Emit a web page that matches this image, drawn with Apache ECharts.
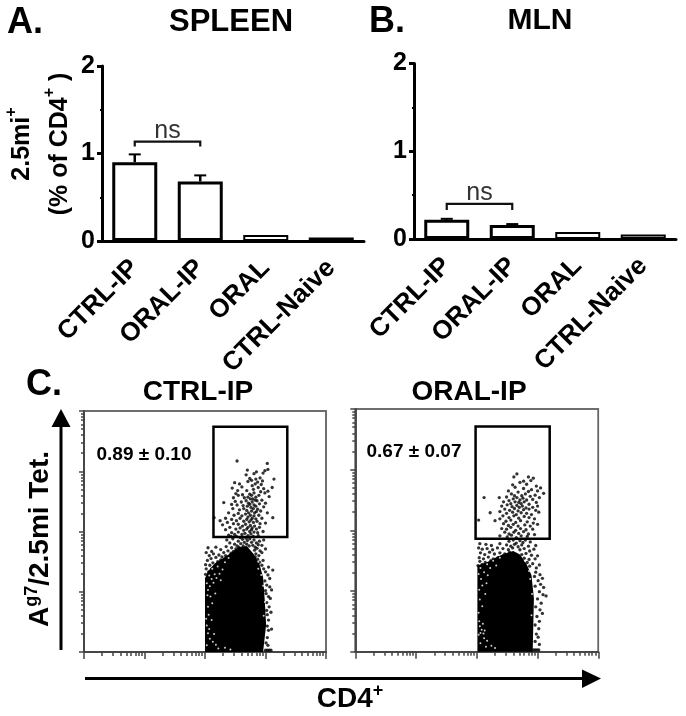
<!DOCTYPE html>
<html>
<head>
<meta charset="utf-8">
<style>html,body{margin:0;padding:0;background:#fff}#chart{width:686px;height:716px}</style>
<script src="https://cdn.jsdelivr.net/npm/echarts@6/dist/echarts.min.js"></script>
</head>
<body>
<div id="chart"></div>
<script>
var categories = ['CTRL-IP', 'ORAL-IP', 'ORAL', 'CTRL-Naive'];
var spleenMean = [0.90, 0.68, 0.07, 0.04];
var spleenUpper = [0.99, 0.75, 0.07, 0.04];
var mlnMean = [0.22, 0.16, 0.08, 0.05];
var mlnUpper = [0.23, 0.17, 0.08, 0.05];
// bracket: from category, to category, top value, leg end value
var spleenBracket = [0, 1, 1.135, 1.08];
var mlnBracket = [0, 1, 0.40, 0.33];

// flow plots, values in decades on the log scale
var decades = [0, 1, 2, 3, 4];
var logMinor = [0.30, 0.48, 0.60, 0.70, 0.78, 0.85, 0.90, 0.95];
var ctrlGate = [[2.14, 1.91], [3.36, 3.74]];
var oralGate = [[1.98, 1.86], [3.20, 3.71]];
var ctrlCore = [[2.00, 0], [2.00, 1.22], [2.05, 1.34], [2.16, 1.47], [2.30, 1.56], [2.44, 1.65], [2.55, 1.74], [2.69, 1.76], [2.80, 1.63], [2.90, 1.46], [2.96, 1.24], [2.99, 0.83], [3.01, 0.45], [2.96, 0]];
var oralCore = [[2.01, 0], [2.01, 1.42], [2.16, 1.47], [2.33, 1.56], [2.465, 1.62], [2.60, 1.66], [2.71, 1.60], [2.82, 1.44], [2.90, 1.26], [2.94, 0.88], [2.93, 0.44], [2.92, 0]];
var ctrlSpeck = [[2.05, 0.31], [2.08, 0.22], [2.03, 0.11], [2.13, 0.17], [2.17, 0.97], [2.05, 0.75], [2.11, 0.53], [2.22, 0.06], [2.33, 0.07], [2.11, 1.21], [2.19, 1.23], [2.05, 1.03], [2.99, 0.83], [2.09, 0.92], [2.03, 0.44], [2.07, 0.38], [2.03, 1.14], [2.08, 1.09], [2.14, 1.15], [2.24, 1.30], [2.29, 1.37], [2.16, 1.29], [2.04, 0.94], [2.12, 0.81], [2.06, 0.62], [2.15, 0.30], [2.02, 0.55], [2.18, 0.12], [2.96, 1.10], [2.93, 1.28], [2.97, 0.60], [2.88, 1.38], [2.42, 0.04], [2.07, 1.27], [2.12, 1.38], [2.21, 1.42], [2.33, 1.49], [2.39, 1.56], [2.26, 1.19], [2.88, 1.50]];
var oralSpeck = [[2.05, 0.42], [2.08, 0.36], [2.03, 0.28], [2.12, 0.22], [2.06, 0.14], [2.15, 0.08], [2.09, 0.75], [2.04, 1.02], [2.14, 0.95], [2.07, 1.20], [2.18, 1.26], [2.24, 0.10], [2.90, 0.60], [2.11, 0.30], [2.04, 0.50], [2.10, 0.46], [2.06, 0.31], [2.13, 0.35], [2.03, 1.28], [2.12, 1.31], [2.22, 1.38], [2.32, 1.42], [2.09, 1.09], [2.16, 1.13], [2.05, 0.86], [2.03, 0.64], [2.17, 0.18], [2.30, 0.06], [2.88, 1.20], [2.91, 0.95], [2.86, 1.33], [2.06, 1.38], [2.17, 1.44], [2.27, 1.50], [2.38, 1.55], [2.79, 1.50]];
var ctrlDots = [
  [2.53, 3.17], [3.03, 3.13], [3.04, 3.03], [2.99, 3.01], [2.70, 3.02], [2.68, 2.94], [2.96, 2.97], [2.85, 2.99], [2.81, 2.96], [3.14, 2.87], [2.77, 2.85], [2.91, 2.89], [2.84, 2.87], [2.74, 2.88], [2.71, 2.83], [2.87, 2.82], [2.95, 2.84],
  [2.49, 2.81], [2.61, 2.74], [2.57, 2.79], [2.78, 2.76], [2.83, 2.79], [2.93, 2.78], [2.97, 2.71], [3.11, 2.73], [2.54, 2.68], [2.45, 2.72], [2.80, 2.70], [2.88, 2.73], [2.92, 2.66], [3.04, 2.67], [2.51, 2.63], [2.62, 2.61], [2.69, 2.68], [2.74, 2.62], [2.81, 2.64], [2.89, 2.60], [2.99, 2.64], [3.06, 2.58],
  [2.47, 2.56], [2.55, 2.60], [2.65, 2.56], [2.71, 2.57], [2.77, 2.60], [2.79, 2.54], [2.84, 2.57], [2.86, 2.51], [2.94, 2.52], [2.50, 2.50], [2.60, 2.49], [2.68, 2.51], [2.72, 2.47], [2.75, 2.54], [2.78, 2.49], [2.81, 2.44], [2.83, 2.52], [2.90, 2.46], [3.00, 2.47],
  [2.31, 2.48], [2.44, 2.45], [2.53, 2.44], [2.63, 2.43], [2.70, 2.42], [2.74, 2.45], [2.76, 2.40], [2.80, 2.38], [2.84, 2.42], [2.87, 2.37], [2.97, 2.41], [2.46, 2.38], [2.57, 2.36], [2.64, 2.38], [2.69, 2.35], [2.72, 2.31], [2.77, 2.34], [2.82, 2.31], [2.85, 2.33], [2.92, 2.34], [3.03, 2.31],
  [2.39, 2.31], [2.48, 2.27], [2.55, 2.30], [2.61, 2.26], [2.67, 2.29], [2.71, 2.24], [2.75, 2.27], [2.78, 2.22], [2.81, 2.26], [2.84, 2.21], [2.89, 2.27], [2.94, 2.22], [3.12, 2.23], [2.34, 2.22], [2.44, 2.20], [2.52, 2.18], [2.58, 2.22], [2.64, 2.17], [2.69, 2.20], [2.73, 2.16], [2.76, 2.19], [2.80, 2.15], [2.86, 2.17], [2.91, 2.13], [3.00, 2.14],
  [2.15, 2.23], [2.25, 2.18], [2.37, 2.15], [2.47, 2.13], [2.55, 2.12], [2.62, 2.09], [2.67, 2.12], [2.71, 2.07], [2.75, 2.10], [2.78, 2.06], [2.82, 2.09], [2.85, 2.04], [2.90, 2.07], [2.29, 2.11], [2.41, 2.07], [2.51, 2.04], [2.58, 2.06], [2.64, 2.02], [2.69, 2.04], [2.74, 2.00], [2.77, 2.03], [2.81, 1.99], [2.87, 1.98], [2.96, 2.00], [2.34, 2.03], [2.44, 1.98], [2.49, 1.95], [2.55, 1.99], [2.61, 1.95], [2.66, 1.97], [2.71, 1.93], [2.76, 1.96], [2.80, 1.92], [2.88, 1.93], [2.39, 1.94], [2.43, 1.92], [2.52, 1.92], [2.58, 1.90], [2.68, 1.89],
  [2.36, 1.86], [2.46, 1.88], [2.55, 1.84], [2.62, 1.87], [2.65, 1.82], [2.70, 1.85], [2.74, 1.88], [2.77, 1.82], [2.81, 1.86], [2.85, 1.81], [2.90, 1.84], [2.97, 1.86], [2.41, 1.81], [2.49, 1.79], [2.53, 1.76], [2.59, 1.80], [2.63, 1.76], [2.69, 1.79], [2.73, 1.76], [2.79, 1.77], [2.83, 1.74], [2.88, 1.78], [2.94, 1.77], [2.18, 1.74], [2.35, 1.75], [2.44, 1.73], [2.51, 1.71], [2.56, 1.74], [2.82, 1.69], [2.86, 1.72], [2.91, 1.68], [3.00, 1.71],
  [2.05, 1.73], [2.11, 1.67], [2.26, 1.70], [2.31, 1.65], [2.38, 1.68], [2.43, 1.64], [2.47, 1.67], [2.50, 1.62], [2.84, 1.63], [2.89, 1.60], [2.94, 1.65], [2.02, 1.65], [2.07, 1.60], [2.14, 1.63], [2.18, 1.57], [2.23, 1.61], [2.28, 1.58], [2.34, 1.60], [2.39, 1.56], [2.43, 1.61], [2.83, 1.58], [2.87, 1.54], [2.96, 1.52], [2.04, 1.52], [2.10, 1.55], [2.13, 1.48], [2.21, 1.50], [2.26, 1.53], [2.31, 1.48], [2.37, 1.51], [2.90, 1.49], [2.94, 1.44], [2.01, 1.45], [2.08, 1.44], [2.16, 1.42], [2.20, 1.45], [2.25, 1.47], [2.02, 1.38], [2.06, 1.33], [2.11, 1.38], [2.01, 1.29], [2.04, 1.24], [2.09, 1.30],
  [3.12, 1.36], [3.05, 1.41], [3.00, 1.33], [2.97, 1.38], [3.07, 1.22], [3.02, 1.11], [3.04, 1.28], [3.10, 1.03], [3.05, 0.92], [3.08, 0.89], [3.01, 0.97], [3.06, 0.75], [3.02, 0.69], [3.05, 0.53], [3.03, 0.62], [3.09, 0.66], [3.10, 0.38], [3.05, 0.36], [3.03, 0.24], [3.04, 0.11], [3.00, 0.03], [3.03, 0.03], [3.06, 0.03], [3.09, 0.03], [2.99, 1.18], [3.00, 1.02], [3.07, 1.08], [3.02, 0.82], [3.03, 0.43], [3.01, 0.15]
];
var oralDots = [
  [2.66, 2.93], [2.61, 2.88], [2.85, 2.88], [2.93, 2.86], [2.77, 2.81], [2.71, 2.79], [2.89, 2.82], [2.59, 2.75], [2.82, 2.76], [2.98, 2.73], [3.05, 2.70], [2.63, 2.71], [2.77, 2.69], [2.90, 2.67], [3.00, 2.65], [3.10, 2.61], [2.52, 2.65], [2.68, 2.63], [2.85, 2.64], [2.96, 2.58], [2.57, 2.60], [2.74, 2.57], [2.12, 2.54], [2.37, 2.54], [2.49, 2.55], [2.62, 2.57], [2.80, 2.60], [2.88, 2.56], [3.03, 2.54],
  [2.53, 2.49], [2.60, 2.52], [2.66, 2.54], [2.71, 2.50], [2.76, 2.53], [2.69, 2.46], [2.82, 2.50], [2.92, 2.51], [2.98, 2.46], [2.44, 2.47], [2.56, 2.44], [2.63, 2.47], [2.73, 2.44], [2.78, 2.47], [2.66, 2.41], [2.86, 2.43], [3.00, 2.40], [2.41, 2.40], [2.50, 2.42], [2.58, 2.39], [2.70, 2.38], [2.75, 2.40], [2.81, 2.37], [2.92, 2.38], [2.46, 2.35], [2.54, 2.33], [2.62, 2.36], [2.68, 2.32], [2.77, 2.34], [2.86, 2.35], [2.97, 2.33], [2.22, 2.29], [2.38, 2.31], [2.49, 2.28], [2.59, 2.30], [2.65, 2.26], [2.73, 2.29], [2.82, 2.28], [2.90, 2.26], [3.02, 2.30],
  [2.43, 2.24], [2.53, 2.21], [2.61, 2.24], [2.69, 2.20], [2.78, 2.23], [2.86, 2.21], [2.95, 2.19], [2.03, 2.17], [2.30, 2.16], [2.38, 2.19], [2.48, 2.15], [2.56, 2.17], [2.64, 2.13], [2.72, 2.16], [2.83, 2.14], [2.93, 2.12], [2.44, 2.11], [2.52, 2.08], [2.60, 2.10], [2.68, 2.07], [2.79, 2.09], [2.88, 2.07], [3.00, 2.10], [2.41, 2.03], [2.49, 2.02], [2.56, 2.05], [2.64, 2.00], [2.72, 2.03], [2.81, 2.01], [2.92, 2.02], [2.46, 1.97], [2.53, 1.94], [2.61, 1.97], [2.69, 1.95], [2.77, 1.98], [2.85, 1.94], [2.95, 1.93], [2.38, 1.91], [2.50, 1.89], [2.57, 1.92], [2.65, 1.88], [2.73, 1.91], [2.83, 1.90],
  [2.53, 1.82], [2.60, 1.84], [2.65, 1.79], [2.71, 1.83], [2.76, 1.80], [2.80, 1.84], [2.88, 1.81], [2.05, 1.78], [2.15, 1.77], [2.24, 1.75], [2.38, 1.78], [2.49, 1.76], [2.56, 1.74], [2.62, 1.77], [2.68, 1.73], [2.74, 1.76], [2.85, 1.74], [2.97, 1.75], [2.03, 1.71], [2.09, 1.69], [2.17, 1.70], [2.26, 1.68], [2.34, 1.71], [2.43, 1.70], [2.52, 1.68], [2.59, 1.71], [2.71, 1.68], [2.78, 1.70], [2.87, 1.66], [2.94, 1.69], [2.06, 1.63], [2.13, 1.60], [2.21, 1.64], [2.29, 1.61], [2.38, 1.63], [2.46, 1.61], [2.54, 1.64], [2.74, 1.60], [2.81, 1.62], [2.90, 1.59], [3.00, 1.58], [2.04, 1.55], [2.11, 1.53], [2.19, 1.56], [2.27, 1.53], [2.35, 1.55], [2.43, 1.58], [2.78, 1.54], [2.86, 1.52], [2.96, 1.53], [2.05, 1.49], [2.14, 1.47], [2.23, 1.50], [2.31, 1.49], [2.83, 1.47], [2.92, 1.45], [3.03, 1.43], [2.02, 1.42], [2.09, 1.44], [2.18, 1.42], [2.87, 1.41], [2.98, 1.38],
  [2.97, 1.31], [3.04, 1.27], [3.08, 1.21], [2.95, 1.24], [3.01, 1.17], [3.05, 1.11], [3.10, 1.06], [2.96, 1.08], [3.03, 0.99], [3.09, 0.94], [3.14, 0.92], [3.00, 0.87], [3.06, 0.80], [2.97, 0.74], [3.04, 0.69], [3.08, 0.63], [2.99, 0.58], [3.03, 0.50], [2.96, 0.44], [3.02, 0.38], [2.98, 0.29], [3.01, 0.24], [2.96, 0.17], [3.03, 0.12], [2.93, 0.03], [2.96, 0.03], [2.99, 0.03], [3.02, 0.03]
];

var FONT = '"Liberation Sans", Arial, sans-serif';

function barGrid(left, top, height) {
	return {left: left, top: top, width: 262, height: height};
}
function flowGrid(left, top, width, height) {
	return {show: true, left: left, top: top, width: width, height: height, borderColor: '#666', borderWidth: 1.5, backgroundColor: 'transparent'};
}

function catAxis(gridIndex) {
	return {
		type: 'category', gridIndex: gridIndex, data: categories,
		axisLine: {lineStyle: {color: '#000', width: 3}},
		axisTick: {alignWithLabel: true, length: 5, lineStyle: {color: '#000', width: 3}},
		axisLabel: {interval: 0, rotate: 45, margin: 23, color: '#000', fontFamily: FONT, fontWeight: 'bold', fontSize: 26}
	};
}
function valAxis(gridIndex) {
	return {
		type: 'value', gridIndex: gridIndex, min: 0, max: 2, interval: 1,
		axisLine: {show: true, lineStyle: {color: '#000', width: 3}},
		axisTick: {show: true, length: 5, lineStyle: {color: '#000', width: 3}},
		minorTick: {show: true, splitNumber: 2, length: 2, lineStyle: {color: '#000', width: 2}},
		splitLine: {show: false},
		axisLabel: {margin: 7, color: '#000', fontFamily: FONT, fontWeight: 'bold', fontSize: 25}
	};
}
var minorValues = [];
decades.slice(0, 4).forEach(function(d) {
	logMinor.forEach(function(m) {
		minorValues.push(d + m);
	});
});
function flowAxis(gridIndex, values, len) {
	return {
		type: 'value', gridIndex: gridIndex, min: 0, max: 4, interval: 1,
		axisLine: {show: true, lineStyle: {color: '#444', width: 1.5}},
		axisTick: {show: true, customValues: values, length: len, lineStyle: {color: '#444', width: 1.5}},
		axisLabel: {show: false},
		splitLine: {show: false}
	};
}

// small bars need a thinner outline or they fill in solid
function barData(values) {
	return values.map(function(v) {
		return {value: v, itemStyle: {borderWidth: v < 0.1 ? 2 : 3}};
	});
}
function barSeries(idx, values) {
	return {type: 'bar', xAxisIndex: idx, yAxisIndex: idx, data: barData(values), barWidth: 45, z: 2, itemStyle: {color: '#fff', borderColor: '#000'}};
}
function errorSeries(idx, mean, upper) {
	return {
		type: 'custom', xAxisIndex: idx, yAxisIndex: idx, silent: true, z: 1,
		data: mean.map(function(m, i) { return [i, m, upper[i]]; }),
		renderItem: function(params, api) {
			var base = api.coord([api.value(0), api.value(1)]);
			var top = api.coord([api.value(0), api.value(2)]);
			if (api.value(2) <= api.value(1)) return;
			return {type: 'group', children: [
				{type: 'line', shape: {x1: base[0], y1: base[1], x2: top[0], y2: top[1]}, style: {stroke: '#000', lineWidth: 2.5}},
				{type: 'line', shape: {x1: top[0] - 6, y1: top[1], x2: top[0] + 6, y2: top[1]}, style: {stroke: '#000', lineWidth: 2}}
			]};
		}
	};
}
function bracketSeries(idx, b) {
	return {
		type: 'custom', xAxisIndex: idx, yAxisIndex: idx, silent: true, z: 3,
		data: [b],
		renderItem: function(params, api) {
			var a = api.coord([api.value(0), api.value(2)]);
			var c = api.coord([api.value(1), api.value(2)]);
			var a2 = api.coord([api.value(0), api.value(3)]);
			return {type: 'group', children: [
				{type: 'polyline', shape: {points: [[a[0], a2[1]], a, c, [c[0], a2[1]]]}, style: {fill: 'none', stroke: '#111', lineWidth: 2.2}},
				{type: 'text', style: {x: (a[0] + c[0]) / 2, y: a[1] + 2, text: 'ns', textAlign: 'center', textVerticalAlign: 'bottom', fill: '#333', font: '25px ' + FONT}}
			]};
		}
	};
}
function coreSeries(idx, core) {
	return {
		type: 'custom', xAxisIndex: idx, yAxisIndex: idx, silent: true, z: 2,
		data: [core[0]],
		renderItem: function(params, api) {
			return {type: 'polygon', shape: {points: core.map(function(p) { return api.coord(p); })}, style: {fill: '#000'}};
		}
	};
}
function gateSeries(idx, gate) {
	return {
		type: 'custom', xAxisIndex: idx, yAxisIndex: idx, silent: true, z: 5,
		data: [gate[0]],
		renderItem: function(params, api) {
			var a = api.coord(gate[0]), b = api.coord(gate[1]);
			return {type: 'rect', shape: {x: a[0], y: b[1], width: b[0] - a[0], height: a[1] - b[1]}, style: {fill: 'none', stroke: '#000', lineWidth: 2.5}};
		}
	};
}
function dotSeries(idx, dots, color, size, z) {
	return {
		type: 'scatter', xAxisIndex: idx, yAxisIndex: idx, silent: true, z: z,
		data: dots, symbol: 'circle', symbolSize: size, itemStyle: {color: color}
	};
}
function label(text, x, y, size, extra) {
	var o = {type: 'text', x: x, y: y, style: {text: text, fill: '#000', font: 'bold ' + size + 'px ' + FONT, textAlign: 'center', textVerticalAlign: 'middle'}};
	if (extra) {
		if (extra.rotation) o.rotation = extra.rotation;
		if (extra.rich) o.style.rich = extra.rich;
	}
	return o;
}
var supRich = {
	a: {font: 'bold 25px ' + FONT, fill: '#000', lineHeight: 36},
	s: {font: 'bold 16px ' + FONT, fill: '#000', verticalAlign: 'top', lineHeight: 30},
	b: {font: 'bold 28px ' + FONT, fill: '#000', lineHeight: 34},
	t: {font: 'bold 18px ' + FONT, fill: '#000', verticalAlign: 'top', lineHeight: 26}
};

var myChart = echarts.init(document.getElementById('chart'), null, {renderer: 'canvas'});
myChart.setOption({
	animation: false,
	backgroundColor: '#fff',
	tooltip: {show: false},
	grid: [
		barGrid(102, 66, 175),
		barGrid(414, 63.5, 175.5),
		flowGrid(84, 411, 242, 241),
		flowGrid(355.3, 409, 243, 242.7),
		flowGrid(84, 411, 242, 241),
		flowGrid(355.3, 409, 243, 242.7)
	],
	xAxis: [
		catAxis(0), catAxis(1),
		flowAxis(2, decades, 7), flowAxis(3, decades, 7),
		flowAxis(4, minorValues, 4), flowAxis(5, minorValues, 4)
	],
	yAxis: [
		valAxis(0), valAxis(1),
		flowAxis(2, decades, 5), flowAxis(3, decades, 5),
		flowAxis(4, minorValues, 3), flowAxis(5, minorValues, 3)
	],
	series: [
		barSeries(0, spleenMean),
		barSeries(1, mlnMean),
		errorSeries(0, spleenMean, spleenUpper),
		errorSeries(1, mlnMean, mlnUpper),
		bracketSeries(0, spleenBracket),
		bracketSeries(1, mlnBracket),
		coreSeries(2, ctrlCore),
		coreSeries(3, oralCore),
		dotSeries(2, ctrlDots, '#000', 3.3, 3),
		dotSeries(3, oralDots, '#000', 3.3, 3),
		dotSeries(2, ctrlSpeck, '#fff', 2, 4),
		dotSeries(3, oralSpeck, '#fff', 2, 4),
		gateSeries(2, ctrlGate),
		gateSeries(3, oralGate)
	],
	graphic: [
		label('A.', 25, 23, 36),
		label('B.', 387, 22, 36),
		label('C.', 44, 385, 36),
		label('SPLEEN', 231, 22, 31),
		label('MLN', 540, 21, 30),
		label('CTRL-IP', 198, 392, 28),
		label('ORAL-IP', 469, 392, 28),
		label('0.89 ± 0.10', 144, 455, 19),
		label('0.67 ± 0.07', 414, 452, 19),
		label('{a|2.5mi}{s|+}', 22, 144, 25, {rotation: Math.PI / 2, rich: supRich}),
		label('{a|(% of CD4}{s|+}{a| )}', 60, 144, 25, {rotation: Math.PI / 2, rich: supRich}),
		label('{b|A}{t|g7}{b|/2.5mi Tet.}', 40, 539, 28, {rotation: Math.PI / 2, rich: supRich}),
		label('{b|CD4}{t|+}', 350, 699, 28, {rich: supRich}),
		{type: 'line', shape: {x1: 61, y1: 650, x2: 61, y2: 422}, style: {stroke: '#000', lineWidth: 3}},
		{type: 'polygon', shape: {points: [[61, 409], [70.5, 427], [51.5, 427]]}, style: {fill: '#000'}},
		{type: 'line', shape: {x1: 85, y1: 678.5, x2: 585, y2: 678.5}, style: {stroke: '#000', lineWidth: 3}},
		{type: 'polygon', shape: {points: [[601, 678.5], [582, 669.5], [582, 688]]}, style: {fill: '#000'}}
	]
});
</script>
</body>
</html>
